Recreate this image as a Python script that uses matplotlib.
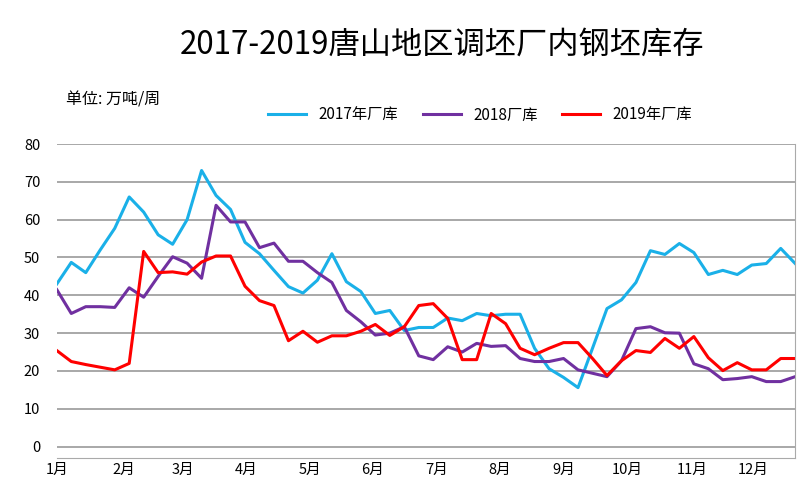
import matplotlib
matplotlib.use("Agg")
import matplotlib.pyplot as plt
import numpy as np

plt.rcParams["font.family"] = ["Noto Sans CJK JP", "Noto Sans CJK SC", "Noto Sans CJK TC", "DejaVu Sans"]

s2017 = [43,48.7,46,52,57.7,66,62,56,53.5,60,73,66.4,62.7,54,51,46.6,42.3,40.6,44,51,
         43.6,41,35.2,36,30.7,31.5,31.5,34,33.3,35.2,34.6,35,35,26,20.6,18.3,15.6,26,36.5,38.8,
         43.4,51.8,50.8,53.7,51.3,45.5,46.6,45.5,48,48.4,52.4,48.4]
s2018 = [41.5,35.2,37,37,36.8,42,39.5,45,50.2,48.5,44.5,63.8,59.4,59.4,52.6,53.8,49,49,46,43.4,
         36,33,29.5,30,31.7,24,23,26.4,25,27.3,26.5,26.7,23.3,22.5,22.5,23.3,20.3,19.4,18.5,22.7,
         31.2,31.7,30.1,30,21.9,20.6,17.7,18,18.5,17.2,17.2,18.5]
s2019 = [25.4,22.5,21.7,21,20.3,22,51.6,46,46.2,45.6,48.8,50.4,50.4,42.4,38.6,37.3,28,30.5,27.6,29.3,
         29.3,30.5,32.3,29.4,31.7,37.3,37.8,33.9,23,23,35.2,32.5,26,24.3,26,27.5,27.5,23.3,18.8,22.7,
         25.4,24.9,28.6,26,29.1,23.5,20.1,22.2,20.3,20.3,23.3,23.3]
months = ["1月","2月","3月","4月","5月","6月","7月","8月","9月","10月","11月","12月"]
month_pos = [0,4.6,8.7,13.1,17.5,21.8,26.2,30.6,35,39.4,43.9,48.1]
series = [("2017年厂库", s2017, "#1ab0e8"), ("2018厂库", s2018, "#7030a0"), ("2019年厂库", s2019, "#ff0000")]

fig = plt.figure(figsize=(8, 5), dpi=100)
ax = fig.add_axes([0.071, 0.084, 0.923, 0.628])
for name, vals, c in series:
    ax.plot(np.arange(len(vals)), vals, color=c, lw=2.2, label=name)
ax.set_xlim(0, 51)
ax.set_ylim(-3, 80)
ax.set_yticks(range(0, 81, 10))
ax.set_xticks(month_pos)
ax.set_xticklabels(months)
ax.grid(axis="y", color="#999999", lw=1.2)
ax.set_axisbelow(True)
for s in ["top", "left"]:
    ax.spines[s].set_visible(False)
ax.spines["right"].set_color("#aaaaaa")
ax.spines["bottom"].set_color("#aaaaaa")
ax.tick_params(length=0, labelsize=10.5)
ax.tick_params(axis="y", pad=12)
fig.text(0.553, 0.91, "2017-2019唐山地区调坯厂内钢坯库存", ha="center", va="center", fontsize=22.5)
fig.text(0.082, 0.80, "单位: 万吨/周", ha="left", va="center", fontsize=11.5)
fig.legend(loc="center", bbox_to_anchor=(0.6, 0.77), ncol=3, frameon=False, fontsize=11,
           handlelength=2.5, columnspacing=1.6)
fig.savefig("out.png")
